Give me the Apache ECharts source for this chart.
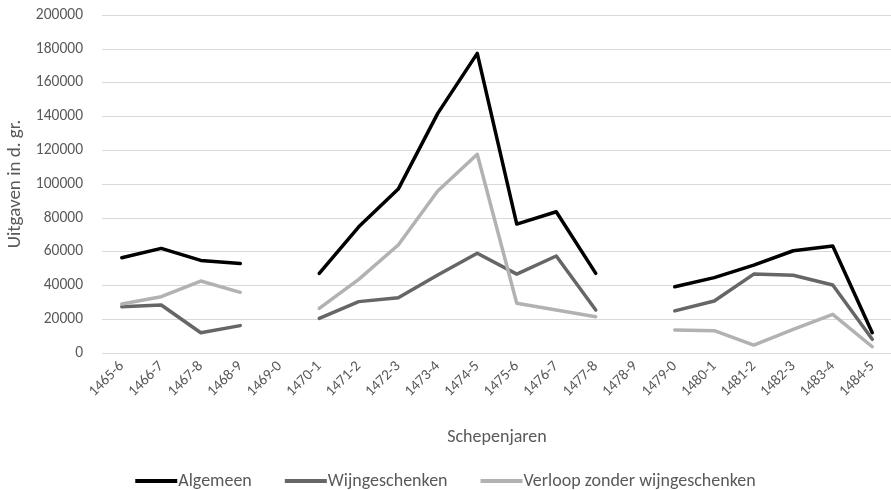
<!DOCTYPE html>
<html>
<head>
<meta charset="utf-8">
<script src="https://cdn.jsdelivr.net/npm/echarts@6/dist/echarts.min.js"></script>
<style>html,body{margin:0;padding:0;background:#fff}#c{width:891px;height:490px}</style>
</head>
<body>
<div id="c"></div>
<script>
const categories = ['1465-6','1466-7','1467-8','1468-9','1469-0','1470-1','1471-2','1472-3','1473-4','1474-5','1475-6','1476-7','1477-8','1478-9','1479-0','1480-1','1481-2','1482-3','1483-4','1484-5'];
const algemeen = [56400, 61900, 54800, 52900, null, 47100, 74700, 97000, 141800, 177300, 76300, 83600, 47100, null, 39200, 44600, 52000, 60500, 63300, 12000];
const wijngeschenken = [27400, 28400, 12000, 16200, null, 20500, 30400, 32700, 46200, 59000, 46700, 57400, 25400, null, 24900, 30800, 46700, 46000, 40200, 8100];
const verloop = [29000, 33300, 42600, 35900, null, 26400, 43600, 63900, 95900, 117600, 29400, 25400, 21500, null, 13600, 13200, 4700, 14000, 22900, 3700];
const yTicks = { min: 0, max: 200000, interval: 20000 };

const FONT = 'Carlito, Lato, "Open Sans", sans-serif';
const chart = echarts.init(document.getElementById('c'), null, { renderer: 'canvas' });
function ser(name, data, color) {
  return { name, type: 'line', data, connectNulls: false, symbol: 'none',
    lineStyle: { color, width: 3.5, join: 'round', cap: 'round' }, itemStyle: { color } };
}
chart.setOption({
  animation: false,
  textStyle: { fontFamily: FONT },
  grid: { left: 102, right: -1, top: 15, bottom: 137, containLabel: false, outerBoundsMode: 'none' },
  xAxis: {
    type: 'category', data: categories, boundaryGap: true,
    name: 'Schepenjaren', nameLocation: 'middle', nameGap: 75,
    nameTextStyle: { color: '#595959', fontSize: 18, fontFamily: FONT },
    axisLine: { show: false }, axisTick: { show: false },
    axisLabel: { rotate: 45, color: '#595959', fontSize: 15, margin: 11, interval: 0, fontFamily: FONT }
  },
  yAxis: {
    type: 'value', min: yTicks.min, max: yTicks.max, interval: yTicks.interval,
    name: 'Uitgaven in d. gr.', nameLocation: 'middle', nameGap: 77, nameRotate: 90,
    nameTextStyle: { color: '#595959', fontSize: 19, fontFamily: FONT },
    axisLine: { show: false }, axisTick: { show: false },
    axisLabel: { color: '#595959', fontSize: 15.5, margin: 19, fontFamily: FONT, formatter: v => String(v) },
    splitLine: { lineStyle: { color: '#d9d9d9', width: 1 } }
  },
  legend: {
    top: 472, left: 'center', padding: 0, itemWidth: 42, itemHeight: 4, itemGap: 33,
    icon: 'rect',
    textStyle: { color: '#595959', fontSize: 18, fontFamily: FONT, padding: [0, 0, 0, -4] },
    data: ['Algemeen', 'Wijngeschenken', 'Verloop zonder wijngeschenken']
  },
  series: [
    ser('Algemeen', algemeen, '#000000'),
    ser('Wijngeschenken', wijngeschenken, '#666666'),
    ser('Verloop zonder wijngeschenken', verloop, '#b2b2b2')
  ]
});
</script>
</body>
</html>
